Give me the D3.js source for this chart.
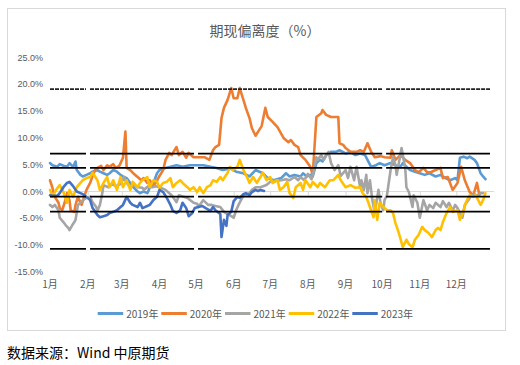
<!DOCTYPE html>
<html><head><meta charset="utf-8">
<script src="https://cdn.jsdelivr.net/npm/d3@7/dist/d3.min.js"></script>
<style>
html,body{margin:0;padding:0;background:#fff;}
svg{display:block;}
</style></head>
<body>
<svg id="chart" width="520" height="365"></svg>
<script>
// ---- data (x = day of year, y = % deviation) ----
const title = "期现偏离度（%）";
const source = "数据来源：Wind 中原期货";
const seriesNames = ["2019年","2020年","2021年","2022年","2023年"];
const seriesColors = ["#5B9BD5","#ED7D31","#A5A5A5","#FFC000","#4472C4"];
const monthLabels = ["1月","2月","3月","4月","5月","6月","7月","8月","9月","10月","11月","12月"];
const monthStartDays = [0,31,59,90,120,151,181,212,243,273,304,334];
const yTicks = [25,20,15,10,5,0,-5,-10,-15];
// reference bands (hand-drawn lines), levels in %
const bandLevels = [19.1, 7.05, 4.4, -0.97, -3.77, -10.7];
const bandSegments = [[0,29.6],[32.9,118.4],[121.7,273.1],[276.3,361.7]];

const s2019 = [[0,5.3],[2,4.9],[6,4.6],[8,5.1],[11,4.8],[14,4.6],[16,5.3],[19,4.6],[21,5.6],[22,4.0],[25,3.1],[27,2.8],[30,3.1],[33,3.4],[35,3.7],[39,4.0],[41,3.7],[44,3.4],[47,3.1],[49,3.4],[52,4.0],[55,3.7],[58,3.1],[60,2.8],[63,2.5],[66,1.6],[68,0.9],[72,0.0],[74,-0.3],[77,0.0],[80,-0.3],[82,0.7],[85,1.6],[88,3.4],[90,4.0],[95,4.4],[99,4.6],[104,4.9],[109,4.6],[115,4.9],[120,4.9],[126,4.9],[132,4.6],[137,4.4],[142,4.0],[148,4.3],[153,3.7],[159,3.4],[164,2.8],[169,4.0],[175,3.4],[179,2.5],[184,2.1],[190,2.5],[194,3.4],[197,2.8],[201,3.1],[206,2.8],[208,3.4],[211,2.8],[214,3.1],[216,2.8],[219,5.3],[222,5.9],[224,5.6],[227,6.8],[231,7.4],[235,7.4],[238,7.7],[243,7.1],[247,7.4],[251,6.8],[255,7.1],[259,6.8],[261,5.9],[264,4.6],[268,4.9],[271,5.3],[275,4.9],[280,5.3],[284,4.9],[288,4.6],[290,5.3],[294,4.4],[296,4.0],[300,3.7],[304,3.4],[308,3.1],[312,3.4],[317,2.8],[321,3.1],[325,2.5],[329,2.1],[333,2.5],[335,2.1],[337,6.3],[340,6.5],[343,6.2],[345,6.5],[349,5.9],[351,5.3],[354,3.4],[356,2.8],[358,2.3]];

const s2020 = [[0,2.1],[2,0.7],[3,-0.3],[4,-1.0],[7,-2.1],[8,-3.1],[10,-3.5],[12,-2.1],[14,-0.3],[16,-1.6],[17,-3.5],[20,-3.8],[21,-2.5],[23,-1.0],[25,-2.1],[26,-2.5],[28,-1.0],[30,0.3],[33,1.6],[35,2.9],[37,4.0],[39,4.4],[42,4.8],[44,4.0],[47,4.9],[49,4.6],[52,5.1],[54,4.4],[57,4.8],[58,5.3],[60,6.3],[62,11.2],[63,4.4],[66,4.0],[68,3.5],[71,2.9],[73,2.5],[75,2.1],[77,2.5],[80,1.6],[82,2.1],[85,1.2],[87,1.6],[90,2.9],[93,4.0],[95,5.9],[98,7.2],[100,6.8],[104,8.3],[106,6.8],[109,7.4],[112,6.3],[114,7.2],[118,6.4],[121,6.4],[124,6.4],[127,6.4],[131,5.9],[134,7.7],[136,8.3],[139,8.7],[141,13.7],[143,15.6],[146,17.1],[149,19.3],[151,17.4],[154,17.4],[156,19.3],[159,17.1],[161,15.6],[164,13.7],[166,11.8],[169,10.4],[172,11.5],[174,12.2],[177,15.6],[179,13.9],[183,13.0],[187,12.0],[192,10.0],[196,9.2],[198,9.6],[201,8.7],[204,8.3],[206,6.8],[210,5.9],[214,4.6],[216,3.1],[219,13.9],[223,14.6],[224,15.2],[227,14.3],[231,13.9],[237,13.9],[238,9.0],[241,8.7],[243,8.1],[247,7.4],[252,7.4],[255,7.7],[258,7.4],[261,9.0],[264,7.4],[267,6.4],[272,6.6],[275,6.4],[280,6.3],[281,7.7],[284,5.9],[288,6.8],[292,5.9],[296,5.3],[300,4.0],[303,3.6],[307,4.4],[310,3.6],[313,3.6],[317,4.0],[321,4.4],[323,2.5],[327,2.7],[331,0.3],[335,1.6],[338,4.6],[341,2.1],[345,-0.1],[348,-0.7],[351,1.6],[353,-0.7]];

const s2021 = [[0,-2.5],[2,-2.9],[4,-2.5],[7,-3.5],[8,-4.9],[11,-5.7],[13,-6.3],[15,-6.8],[16,-7.2],[18,-6.4],[20,-5.7],[21,-5.3],[23,-2.5],[25,-2.1],[27,-1.6],[30,-1.2],[33,-1.0],[35,-2.0],[38,-2.9],[39,-3.6],[41,-2.5],[43,-0.3],[44,1.2],[48,0.8],[51,1.4],[54,1.0],[58,1.4],[61,2.7],[63,1.6],[66,0.8],[69,1.2],[72,0.8],[76,0.7],[77,0.3],[81,1.0],[84,0.8],[87,1.0],[90,0.8],[95,0.3],[99,-0.5],[101,-1.0],[104,-2.0],[106,-0.7],[110,-1.0],[113,-1.2],[118,-2.1],[121,-2.3],[122,-2.9],[126,-1.6],[130,-2.5],[133,-2.5],[136,-2.7],[140,-2.9],[143,-3.8],[146,-4.2],[149,-4.6],[151,-4.9],[153,-3.5],[155,-2.5],[157,-1.6],[159,-0.8],[164,-0.3],[166,0.3],[169,0.8],[173,0.8],[178,1.2],[182,2.0],[186,2.0],[190,2.1],[194,2.3],[197,2.1],[201,2.7],[204,2.1],[206,2.7],[209,2.1],[212,3.3],[215,2.3],[217,4.0],[219,6.4],[220,5.9],[223,6.8],[225,5.9],[229,7.4],[231,5.3],[234,4.0],[237,4.9],[239,2.9],[243,4.0],[245,2.5],[247,4.6],[250,2.1],[252,4.6],[255,0.8],[256,2.1],[258,0.3],[260,3.1],[261,-0.3],[263,2.1],[265,-1.6],[267,-4.0],[270,0.3],[272,-2.5],[274,-3.5],[275,-1.6],[277,-0.7],[280,4.0],[282,6.4],[284,4.9],[285,3.1],[288,6.8],[289,8.1],[292,4.4],[293,0.8],[295,-0.1],[298,-2.9],[299,-0.7],[302,-2.1],[304,-4.9],[307,-1.6],[310,-3.5],[312,-2.5],[315,-3.1],[317,-2.1],[321,-2.9],[323,-1.8],[326,-2.9],[328,-2.1],[331,-3.6],[333,-2.5],[335,-3.1],[337,-4.0],[339,-4.9],[341,-2.5],[344,-1.6],[346,-0.8],[349,-0.5],[351,-0.8],[354,-0.3],[356,-0.3]];

const s2022 = [[0,0.3],[2,-1.0],[5,0.3],[8,1.2],[11,-0.1],[14,-2.1],[16,0.3],[19,-1.0],[22,0.8],[25,1.6],[27,2.1],[30,2.5],[33,2.7],[35,3.5],[39,2.1],[41,0.3],[44,1.6],[47,2.7],[49,0.8],[52,2.1],[55,0.3],[58,2.7],[60,0.8],[63,2.1],[66,0.3],[68,1.8],[72,0.8],[74,1.6],[76,2.1],[80,2.7],[82,0.8],[85,2.1],[88,1.8],[90,0.7],[93,1.6],[96,1.8],[99,2.5],[101,0.8],[104,1.6],[107,2.1],[109,1.6],[113,0.8],[115,0.3],[118,0.8],[121,-0.1],[123,0.8],[126,-0.3],[129,0.8],[132,1.2],[134,2.1],[137,1.8],[140,2.7],[142,2.1],[146,3.5],[148,4.6],[150,4.0],[154,4.6],[156,5.9],[159,4.0],[162,2.7],[164,1.6],[167,2.7],[170,1.6],[173,2.7],[175,3.5],[178,2.1],[181,2.7],[183,1.6],[187,2.1],[189,0.3],[192,0.8],[195,1.8],[197,-0.3],[200,-1.2],[202,0.8],[206,1.6],[208,0.3],[210,2.1],[214,0.8],[216,1.8],[220,0.8],[222,1.6],[226,0.8],[230,2.1],[233,2.1],[237,3.1],[239,2.1],[243,0.8],[247,1.2],[251,0.7],[255,0.8],[257,-0.3],[260,-1.0],[263,-2.9],[266,-4.8],[267,-1.6],[269,-5.3],[271,-2.1],[274,-2.9],[277,-3.5],[280,-3.5],[282,-4.0],[284,-5.9],[286,-7.2],[288,-8.7],[290,-10.4],[293,-9.0],[295,-9.8],[298,-10.4],[300,-9.0],[303,-8.1],[306,-6.6],[308,-7.2],[311,-7.7],[314,-8.5],[317,-7.2],[319,-6.8],[321,-7.2],[323,-5.7],[326,-4.0],[329,-2.9],[331,-3.8],[335,-3.5],[337,-5.3],[340,-3.5],[342,-2.0],[345,-0.7],[348,-1.0],[350,-0.7],[354,-2.5],[356,-1.6],[358,-0.3]];

const s2023 = [[0,-0.7],[2,-0.8],[6,-0.8],[8,-0.3],[11,0.8],[14,1.6],[16,1.8],[19,1.0],[22,0.0],[25,-0.3],[27,-0.5],[30,-1.0],[33,-1.6],[35,-3.1],[39,-4.4],[41,-4.8],[44,-4.6],[47,-4.4],[49,-4.0],[52,-3.8],[55,-3.5],[58,-2.9],[60,-2.5],[63,-1.0],[66,-2.1],[68,-2.5],[72,-2.9],[74,-2.1],[76,-3.1],[80,-2.7],[82,-2.5],[85,-1.6],[88,-1.0],[90,0.3],[93,-0.1],[96,-1.2],[99,-2.5],[101,-3.6],[104,-4.0],[107,-3.5],[109,-2.1],[112,-3.1],[114,-4.6],[117,-4.0],[119,-3.1],[122,-2.9],[125,-2.7],[128,-3.1],[132,-3.6],[134,-2.9],[136,-3.5],[140,-4.2],[141,-8.5],[143,-5.3],[145,-6.4],[146,-4.4],[149,-3.8],[151,-1.8],[154,-1.0],[156,-1.2],[159,-0.5],[161,-0.3],[164,-0.7],[166,-0.1],[169,0.3],[171,0.1],[173,0.3],[176,0.1]];

const seriesData = [s2019, s2020, s2021, s2022, s2023];

// ---- drawing ----
const svg = d3.select("#chart");
const W = 520, H = 365;
const x = d3.scaleLinear().domain([0, 365]).range([50, 494]);
const y = d3.scaleLinear().domain([-15, 25]).range([271.9, 57.5]);
const textColor = "#595959";
const latin = "'Liberation Sans', Arial, sans-serif";
const cjk = "'Noto Sans CJK SC', 'Liberation Sans', sans-serif";

svg.append("rect").attr("width", W).attr("height", H).attr("fill", "#fff");
svg.append("rect").attr("x", 7.5).attr("y", 8.5).attr("width", 498).attr("height", 322)
  .attr("fill", "#fff").attr("stroke", "#D9D9D9").attr("stroke-width", 1);

svg.append("text").attr("x", 265).attr("y", 36).attr("text-anchor", "middle")
  .attr("font-family", cjk).attr("font-size", 14).attr("fill", textColor).text(title);

// y labels
svg.append("g").selectAll("text").data(yTicks).join("text")
  .attr("x", 43).attr("y", d => y(d)).attr("dy", "0.35em").attr("text-anchor", "end")
  .attr("font-family", latin).attr("font-size", 9).attr("fill", textColor)
  .text(d => d.toFixed(1) + "%");

// x axis line at 0 with month ticks
const axisG = svg.append("g").attr("transform", `translate(0,${y(0)})`);
const xAxis = d3.axisBottom(x).tickValues(monthStartDays).tickSize(4).tickFormat("");
axisG.call(xAxis);
axisG.select(".domain").attr("stroke", "#D9D9D9").attr("d", `M${x(0)},0H${x(365)}`);
axisG.selectAll(".tick line").attr("stroke", "#D9D9D9");

// month labels
svg.append("g").selectAll("text").data(monthStartDays).join("text")
  .attr("x", d => x(d)).attr("y", 288).attr("text-anchor", "middle")
  .attr("font-family", cjk).attr("font-size", 10).attr("fill", textColor)
  .text((d, i) => monthLabels[i]);

// series lines
const line = d3.line().x(d => x(d[0])).y(d => y(d[1]));
svg.append("g").selectAll("path").data(seriesData).join("path")
  .attr("d", line).attr("fill", "none")
  .attr("stroke", (d, i) => seriesColors[i]).attr("stroke-width", 2.6)
  .attr("stroke-linejoin", "round").attr("stroke-linecap", "round");

// black reference lines
const bandG = svg.append("g");
bandLevels.forEach((lv, li) => {
  bandSegments.forEach(seg => {
    bandG.append("line")
      .attr("x1", x(seg[0])).attr("x2", x(seg[1]))
      .attr("y1", y(lv)).attr("y2", y(lv))
      .attr("stroke", li === 0 ? "#222" : "#000").attr("stroke-width", li === 0 ? 1.6 : 1.8)
      .attr("stroke-dasharray", li === 0 ? "4,1" : null);
  });
});

// legend
const legendX = [97.7, 161.3, 225, 288.7, 352.3];
const lg = svg.append("g");
seriesNames.forEach((name, i) => {
  lg.append("line").attr("x1", legendX[i]).attr("x2", legendX[i] + 25.5)
    .attr("y1", 313.5).attr("y2", 313.5).attr("stroke", seriesColors[i]).attr("stroke-width", 3);
  lg.append("text").attr("x", legendX[i] + 28.5).attr("y", 317.5)
    .attr("font-family", cjk).attr("font-size", 10).attr("fill", textColor).text(name);
});

// source
svg.append("text").attr("x", 7).attr("y", 358)
  .attr("font-family", cjk).attr("font-size", 14).attr("fill", "#000").text(source);
</script>
</body></html>
